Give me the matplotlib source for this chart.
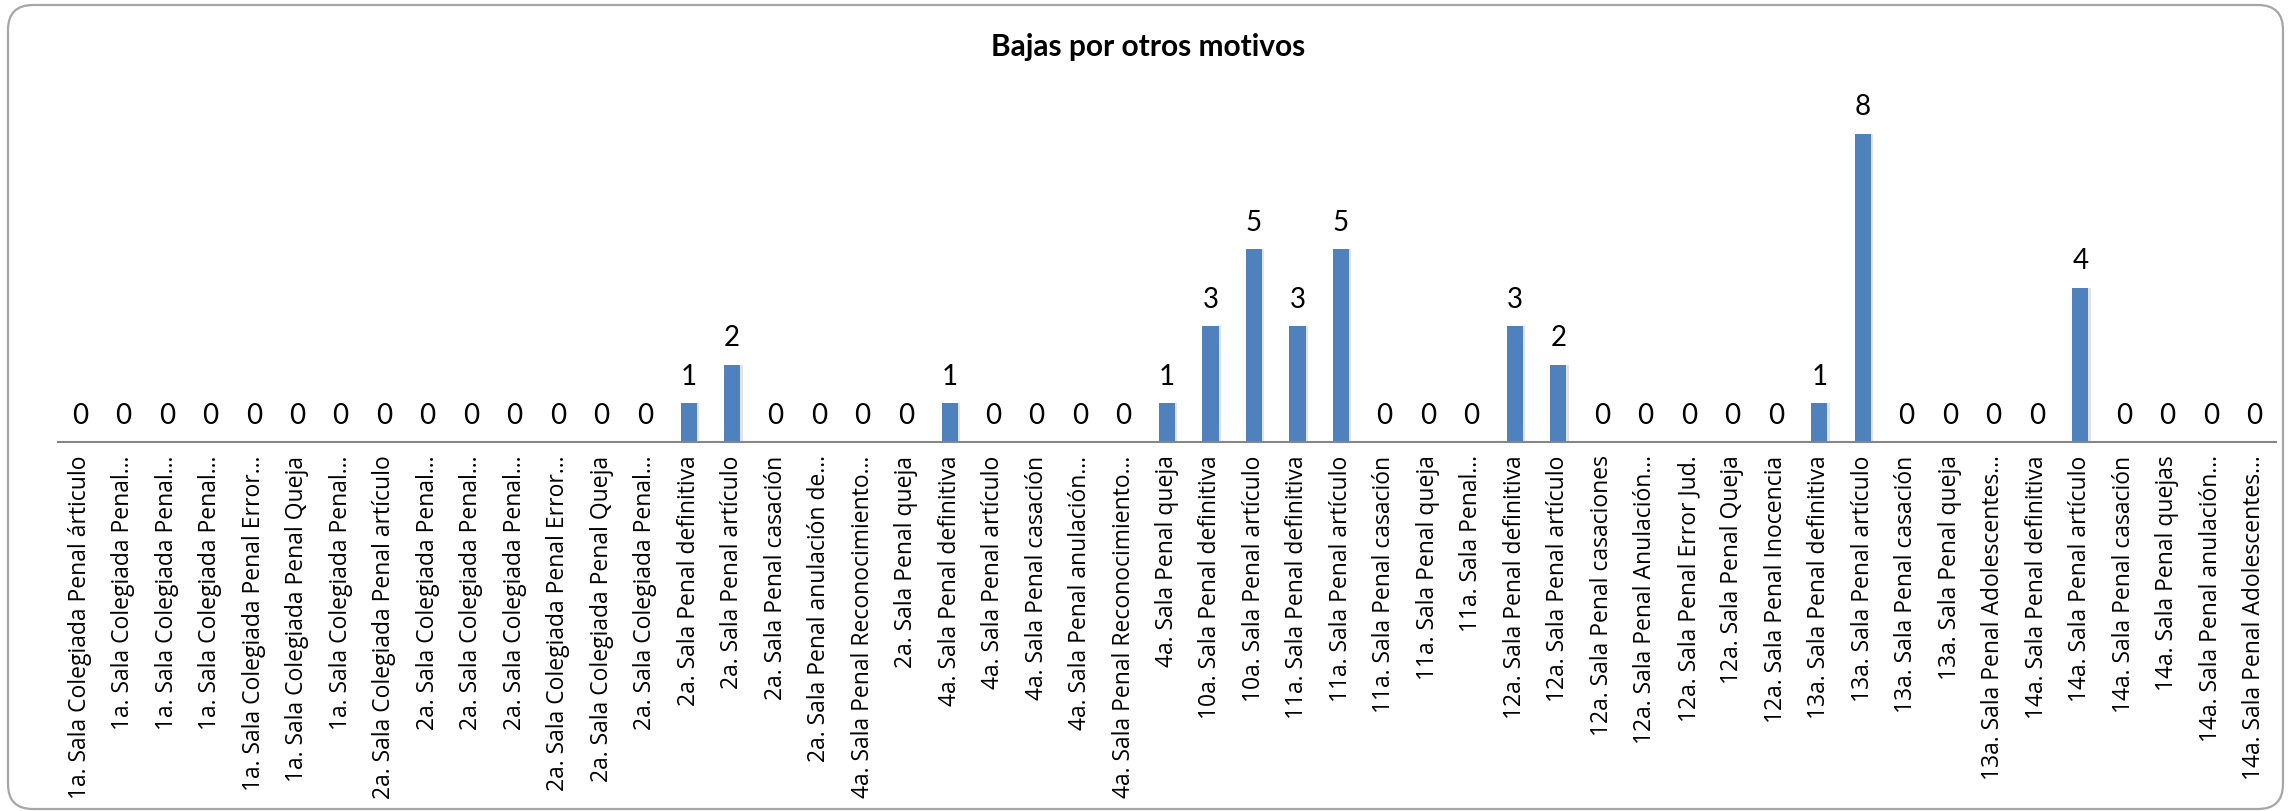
import matplotlib
matplotlib.use("Agg")
import matplotlib.pyplot as plt
from matplotlib.patches import FancyBboxPatch
import numpy as np

# categorias (tal como se ven en el eje, con los cortes de Excel)
categorias = [
    "1a. Sala Colegiada Penal árticulo",
    "1a. Sala Colegiada Penal…",
    "1a. Sala Colegiada Penal…",
    "1a. Sala Colegiada Penal…",
    "1a. Sala Colegiada Penal Error…",
    "1a. Sala Colegiada Penal Queja",
    "1a. Sala Colegiada Penal…",
    "2a. Sala Colegiada Penal artículo",
    "2a. Sala Colegiada Penal…",
    "2a. Sala Colegiada Penal…",
    "2a. Sala Colegiada Penal…",
    "2a. Sala Colegiada Penal Error…",
    "2a. Sala Colegiada Penal Queja",
    "2a. Sala Colegiada Penal…",
    "2a. Sala Penal definitiva",
    "2a. Sala Penal artículo",
    "2a. Sala Penal casación",
    "2a. Sala Penal anulación de…",
    "4a. Sala Penal Reconocimiento…",
    "2a. Sala Penal queja",
    "4a. Sala Penal definitiva",
    "4a. Sala Penal artículo",
    "4a. Sala Penal casación",
    "4a. Sala Penal anulación…",
    "4a. Sala Penal Reconocimiento…",
    "4a. Sala Penal queja",
    "10a. Sala Penal definitiva",
    "10a. Sala Penal artículo",
    "11a. Sala Penal definitiva",
    "11a. Sala Penal artículo",
    "11a. Sala Penal casación",
    "11a. Sala Penal queja",
    "11a. Sala Penal…",
    "12a. Sala Penal definitiva",
    "12a. Sala Penal artículo",
    "12a. Sala Penal casaciones",
    "12a. Sala Penal Anulación…",
    "12a. Sala Penal Error Jud.",
    "12a. Sala Penal Queja",
    "12a. Sala Penal Inocencia",
    "13a. Sala Penal definitiva",
    "13a. Sala Penal artículo",
    "13a. Sala Penal casación",
    "13a. Sala Penal queja",
    "13a. Sala Penal Adolescentes…",
    "14a. Sala Penal definitiva",
    "14a. Sala Penal artículo",
    "14a. Sala Penal casación",
    "14a. Sala Penal quejas",
    "14a. Sala Penal anulación…",
    "14a. Sala Penal Adolescentes…",
]

bajas = [0, 0, 0, 0, 0, 0, 0, 0, 0, 0, 0, 0, 0, 0,
         1, 2, 0, 0, 0, 0, 1, 0, 0, 0, 0, 1,
         3, 5, 3, 5, 0, 0, 0, 3, 2, 0, 0, 0, 0, 0,
         1, 8, 0, 0, 0, 0, 4, 0, 0, 0, 0]

titulo = "Bajas por otros motivos"

W, H = 2290, 812
fig = plt.figure(figsize=(W / 100, H / 100), dpi=100)

# marco redondeado del grafico (en pulgadas, 100 px = 1 in)
marco = FancyBboxPatch((0.08, 0.02), 22.75, 8.04,
                       boxstyle="round,pad=0,rounding_size=0.25",
                       transform=fig.dpi_scale_trans, facecolor="none",
                       edgecolor="#a6a6a6", linewidth=1.6, zorder=-1)
fig.add_artist(marco)

ax = fig.add_axes([58 / W, 1 - 443 / H, 2218 / W, 347 / H])
ax.set_facecolor("none")

x = np.arange(len(categorias))
# sombra ligera detras de las barras
ax.bar(x + 0.03, bajas, width=0.42, color="#e3e3e3", zorder=1)
ax.bar(x, bajas, width=0.37, color="#4f81bd", zorder=2)

for xi, v in zip(x, bajas):
    ax.annotate(str(v), (xi, v), xytext=(0, 14), textcoords="offset points",
                ha="center", va="baseline", fontsize=20,
                family=["Lato", "DejaVu Sans"])

ax.set_xlim(-0.5, len(categorias) - 0.5)
ax.set_ylim(0, 9)
ax.set_xticks(x)
ax.set_xticklabels(categorias, rotation=90, fontsize=16.5,
                   family=["Open Sans", "DejaVu Sans"])
ax.tick_params(axis="x", length=0, pad=9)
ax.set_yticks([])
for s in ["left", "right", "top"]:
    ax.spines[s].set_visible(False)
ax.spines["bottom"].set_color("#868686")
ax.spines["bottom"].set_linewidth(1.5)

fig.text(1148 / W, 1 - 47 / H, titulo, ha="center", va="center",
         fontsize=21.5, fontweight="bold", family=["Lato", "DejaVu Sans"])

fig.savefig("out.png", dpi=100)
